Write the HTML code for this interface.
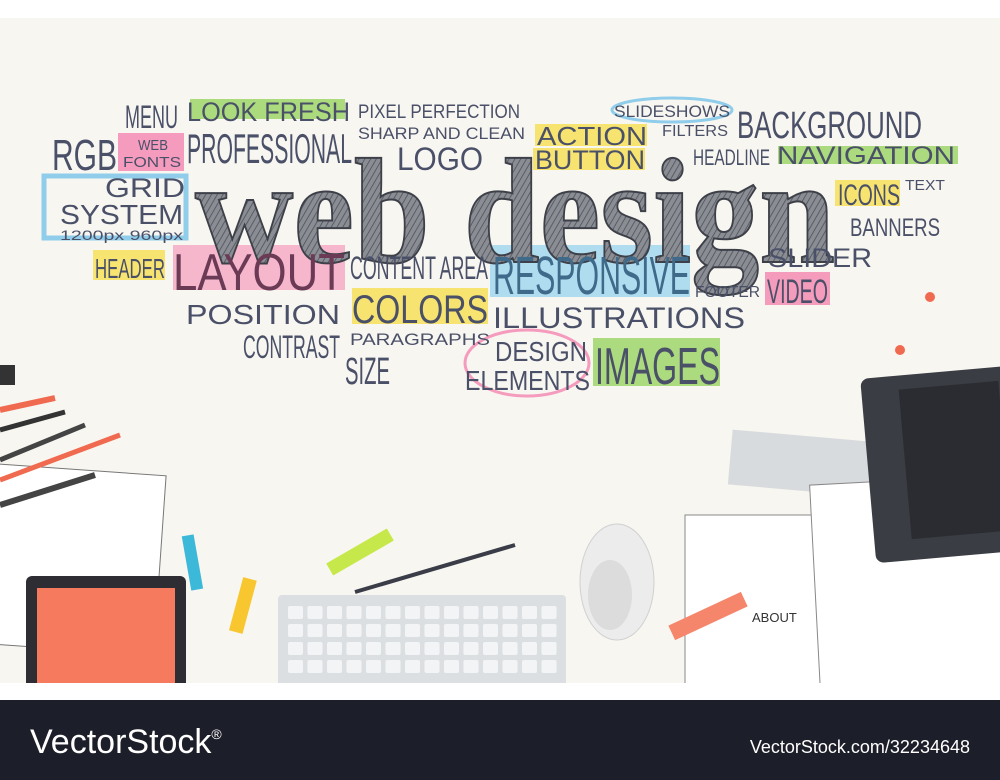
<!DOCTYPE html>
<html><head><meta charset="utf-8"><style>
html,body{margin:0;padding:0;width:1000px;height:780px;overflow:hidden;background:#fff}
svg{display:block}
.w{font-family:"Liberation Sans Narrow","Liberation Sans",sans-serif;fill:#4a5068}
</style></head><body>
<svg width="1000" height="780" viewBox="0 0 1000 780">
<defs>
<pattern id="hatch" width="5" height="5" patternUnits="userSpaceOnUse" patternTransform="rotate(30)">
<rect width="5" height="5" fill="#8a8d94"/>
<line x1="0" y1="0" x2="0" y2="5" stroke="#4a4d55" stroke-width="1.5"/>
</pattern>
</defs>
<rect x="0" y="0" width="1000" height="780" fill="#ffffff"/>
<rect x="0" y="18" width="1000" height="665" fill="#f8f6f1"/>
<g opacity="0.85">
<rect x="190" y="99" width="155" height="20" fill="#9fd66a"/>
<rect x="118" y="133" width="66" height="38" fill="#f58cb4"/>
<rect x="535" y="124" width="112" height="22" fill="#f7e05a"/>
<rect x="533" y="148" width="112" height="22" fill="#f7e05a"/>
<rect x="778" y="146" width="180" height="18" fill="#9fd66a"/>
<rect x="835" y="180" width="65" height="26" fill="#f7e05a"/>
<rect x="44" y="176" width="142" height="62" fill="none" stroke="#7ec6ea" stroke-width="5"/>
<rect x="93" y="250" width="72" height="30" fill="#f7e05a"/>
<rect x="173" y="245" width="172" height="45" fill="#f58cb4" opacity="0.7"/>
<rect x="490" y="245" width="200" height="52" fill="#8fd0f0" opacity="0.8"/>
<rect x="765" y="272" width="65" height="33" fill="#f58cb4"/>
<rect x="352" y="288" width="136" height="36" fill="#f7e05a"/>
<rect x="593" y="338" width="127" height="48" fill="#9fd66a"/>
<ellipse cx="672" cy="110" rx="60" ry="12" fill="none" stroke="#7ec6ea" stroke-width="3"/>
<ellipse cx="527" cy="363" rx="62" ry="33" fill="none" stroke="#f58cb4" stroke-width="3"/>
</g>
<g class="w">
<text x="195" y="262" font-size="150" font-weight="bold" textLength="640" lengthAdjust="spacingAndGlyphs" fill="url(#hatch)" stroke="#3d4048" stroke-width="2" font-family="Liberation Serif,serif">web design</text>
<text x="125" y="128" font-size="32" textLength="53" lengthAdjust="spacingAndGlyphs">MENU</text>
<text x="187" y="121" font-size="27" textLength="163" lengthAdjust="spacingAndGlyphs">LOOK FRESH</text>
<text x="358" y="118" font-size="19" textLength="162" lengthAdjust="spacingAndGlyphs">PIXEL PERFECTION</text>
<text x="614" y="117" font-size="17" textLength="116" lengthAdjust="spacingAndGlyphs">SLIDESHOWS</text>
<text x="737" y="138" font-size="38" textLength="185" lengthAdjust="spacingAndGlyphs">BACKGROUND</text>
<text x="52" y="170" font-size="44" textLength="65" lengthAdjust="spacingAndGlyphs">RGB</text>
<text x="138" y="150" font-size="15" textLength="30" lengthAdjust="spacingAndGlyphs">WEB</text>
<text x="123" y="167" font-size="15" textLength="58" lengthAdjust="spacingAndGlyphs">FONTS</text>
<text x="187" y="163" font-size="42" textLength="165" lengthAdjust="spacingAndGlyphs">PROFESSIONAL</text>
<text x="358" y="139" font-size="17" textLength="167" lengthAdjust="spacingAndGlyphs">SHARP AND CLEAN</text>
<text x="537" y="145" font-size="26" textLength="110" lengthAdjust="spacingAndGlyphs">ACTION</text>
<text x="662" y="136" font-size="16" textLength="66" lengthAdjust="spacingAndGlyphs">FILTERS</text>
<text x="397" y="170" font-size="32" textLength="86" lengthAdjust="spacingAndGlyphs">LOGO</text>
<text x="535" y="169" font-size="27" textLength="110" lengthAdjust="spacingAndGlyphs">BUTTON</text>
<text x="693" y="165" font-size="22" textLength="77" lengthAdjust="spacingAndGlyphs">HEADLINE</text>
<text x="777" y="164" font-size="25" textLength="178" lengthAdjust="spacingAndGlyphs">NAVIGATION</text>
<text x="105" y="197" font-size="27" textLength="80" lengthAdjust="spacingAndGlyphs">GRID</text>
<text x="60" y="224" font-size="28" textLength="123" lengthAdjust="spacingAndGlyphs">SYSTEM</text>
<text x="838" y="205" font-size="30" textLength="62" lengthAdjust="spacingAndGlyphs">ICONS</text>
<text x="905" y="190" font-size="15" textLength="40" lengthAdjust="spacingAndGlyphs">TEXT</text>
<text x="60" y="240" font-size="14" textLength="123" lengthAdjust="spacingAndGlyphs">1200px  960px</text>
<text x="850" y="236" font-size="25" textLength="90" lengthAdjust="spacingAndGlyphs">BANNERS</text>
<text x="95" y="278" font-size="28" textLength="70" lengthAdjust="spacingAndGlyphs">HEADER</text>
<text x="173" y="290" font-size="52" textLength="172" lengthAdjust="spacingAndGlyphs" fill="#6b3a55">LAYOUT</text>
<text x="350" y="279" font-size="32" textLength="138" lengthAdjust="spacingAndGlyphs">CONTENT AREA</text>
<text x="493" y="294" font-size="54" textLength="197" lengthAdjust="spacingAndGlyphs" fill="#3f6a8a">RESPONSIVE</text>
<text x="768" y="267" font-size="27" textLength="104" lengthAdjust="spacingAndGlyphs">SLIDER</text>
<text x="767" y="303" font-size="34" textLength="61" lengthAdjust="spacingAndGlyphs">VIDEO</text>
<text x="695" y="297" font-size="16" textLength="65" lengthAdjust="spacingAndGlyphs">FOOTER</text>
<text x="186" y="324" font-size="28" textLength="154" lengthAdjust="spacingAndGlyphs">POSITION</text>
<text x="352" y="323" font-size="40" textLength="136" lengthAdjust="spacingAndGlyphs">COLORS</text>
<text x="493" y="328" font-size="30" textLength="252" lengthAdjust="spacingAndGlyphs">ILLUSTRATIONS</text>
<text x="243" y="358" font-size="32" textLength="97" lengthAdjust="spacingAndGlyphs">CONTRAST</text>
<text x="350" y="345" font-size="17" textLength="140" lengthAdjust="spacingAndGlyphs">PARAGRAPHS</text>
<text x="345" y="384" font-size="38" textLength="45" lengthAdjust="spacingAndGlyphs">SIZE</text>
<text x="495" y="361" font-size="28" textLength="92" lengthAdjust="spacingAndGlyphs">DESIGN</text>
<text x="465" y="390" font-size="28" textLength="125" lengthAdjust="spacingAndGlyphs">ELEMENTS</text>
<text x="595" y="384" font-size="52" textLength="125" lengthAdjust="spacingAndGlyphs">IMAGES</text>
</g>
<circle cx="930" cy="297" r="5" fill="#f06a50"/>
<circle cx="900" cy="350" r="5" fill="#f06a50"/>
<g>
<rect x="-10" y="470" width="170" height="180" fill="#fff" stroke="#777" transform="rotate(4 80 560)"/>
<line x1="0" y1="410" x2="55" y2="398" stroke="#f06a50" stroke-width="6"/>
<line x1="0" y1="430" x2="65" y2="412" stroke="#333" stroke-width="5"/>
<line x1="0" y1="460" x2="85" y2="425" stroke="#444" stroke-width="5"/>
<line x1="0" y1="480" x2="120" y2="435" stroke="#f06a50" stroke-width="5"/>
<line x1="0" y1="505" x2="95" y2="475" stroke="#444" stroke-width="6"/>
<rect x="0" y="365" width="15" height="20" fill="#333"/>
<rect x="26" y="576" width="160" height="115" rx="6" fill="#2d2d33"/>
<rect x="37" y="588" width="138" height="100" fill="#f57a5e"/>
<rect x="186" y="535" width="12" height="55" fill="#3cb8d8" transform="rotate(-10 192 560)"/>
<rect x="236" y="578" width="14" height="55" fill="#f8c62e" transform="rotate(15 243 605)"/>
<rect x="325" y="545" width="70" height="14" fill="#c6e84a" transform="rotate(-30 360 552)"/>
<line x1="355" y1="592" x2="515" y2="545" stroke="#3a3d48" stroke-width="4"/>
</g>
<rect x="278" y="595" width="288" height="95" rx="4" fill="#dcdfe2"/>
<g fill="#f3f4f5" id="keys"></g>
<ellipse cx="617" cy="582" rx="37" ry="58" fill="#ececec" stroke="#d0d0d0"/>
<ellipse cx="610" cy="595" rx="22" ry="35" fill="#dcdcdc"/>
<g>
<rect x="730" y="436" width="150" height="55" fill="#d8dbde" transform="rotate(5 805 463)"/>
<rect x="685" y="515" width="165" height="175" fill="#fff" stroke="#888"/>
<text x="752" y="622" font-family="Liberation Sans,sans-serif" font-size="13" fill="#333">ABOUT</text>
<rect x="815" y="480" width="190" height="210" fill="#fff" stroke="#888" transform="rotate(-3 910 585)"/>
<rect x="668" y="608" width="80" height="16" fill="#f6866b" transform="rotate(-25 708 616)"/>
<rect x="868" y="372" width="150" height="185" rx="8" fill="#3a3d44" transform="rotate(-5 943 465)"/>
<rect x="905" y="385" width="100" height="150" fill="#2a2c31" transform="rotate(-5 955 460)"/>
</g>
<rect x="0" y="683" width="1000" height="17" fill="#ffffff"/>
<rect x="0" y="700" width="1000" height="80" fill="#1c1e29"/>
<text x="30" y="753" font-family="Liberation Sans,sans-serif" font-size="34" fill="#fff">VectorStock<tspan font-size="14" dy="-14">®</tspan></text>
<text x="970" y="753" text-anchor="end" font-family="Liberation Sans,sans-serif" font-size="18" fill="#fff">VectorStock.com/32234648</text>
</svg>
<script>
var g=document.getElementById('keys');
for(var r=0;r<4;r++){for(var c=0;c<14;c++){
var k=document.createElementNS('http://www.w3.org/2000/svg','rect');
k.setAttribute('x',288+c*19.5);k.setAttribute('y',606+r*18);k.setAttribute('width',15);k.setAttribute('height',13);k.setAttribute('rx',2);


g.appendChild(k);}}
</script>
</body></html>
